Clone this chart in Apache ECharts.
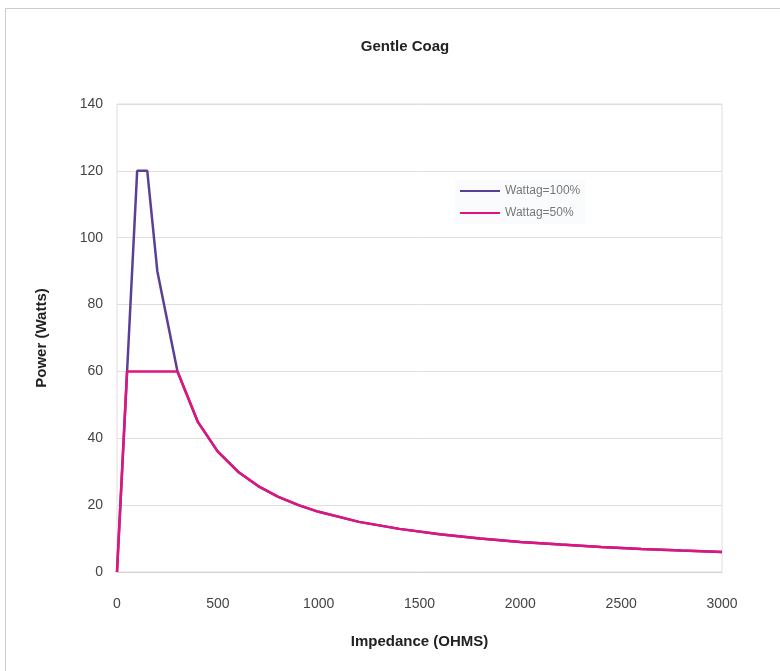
<!DOCTYPE html>
<html>
<head>
<meta charset="utf-8">
<script src="https://cdn.jsdelivr.net/npm/echarts@6/dist/echarts.min.js"></script>
<style>
html,body{margin:0;padding:0;background:#fff;}
#main{width:780px;height:671px;}
</style>
</head>
<body>
<div id="main"></div>
<script>
// impedance (ohms) and power (watts)
let ohms100 = [0, 100, 150, 200, 300, 400, 500, 600, 700, 800, 900, 1000, 1200, 1400, 1600, 1800, 2000, 2200, 2400, 2600, 2800, 3000];
let watts100 = [0, 120, 120, 90, 60, 45, 36, 30, 25.7, 22.5, 20, 18, 15, 12.9, 11.3, 10, 9, 8.2, 7.5, 6.9, 6.4, 6];
let ohms50 = [0, 50, 300, 400, 500, 600, 700, 800, 900, 1000, 1200, 1400, 1600, 1800, 2000, 2200, 2400, 2600, 2800, 3000];
let watts50 = [0, 60, 60, 45, 36, 30, 25.7, 22.5, 20, 18, 15, 12.9, 11.3, 10, 9, 8.2, 7.5, 6.9, 6.4, 6];
let names = ['Wattag=100%', 'Wattag=50%'];

function pairs(xs, ys){
    let out = [];
    for(let i=0;i<xs.length;i++){
        out.push([xs[i], ys[i]]);
    }
    return out;
}

let chart = echarts.init(document.getElementById('main'));
chart.setOption({
    animation: false,
    backgroundColor: '#fff',
    graphic: [{
        type: 'rect',
        shape: { x: 5.5, y: 8.5, width: 800, height: 700 },
        style: { fill: 'none', stroke: '#cfcaca', lineWidth: 1 },
        silent: true
    }],
    title: {
        text: 'Gentle Coag',
        left: 400,
        top: 34,
        textAlign: 'center',
        textStyle: {
            fontFamily: 'Liberation Sans',
            fontSize: 15,
            fontWeight: 'bold',
            color: '#222'
        }
    },
    legend: {
        orient: 'vertical',
        left: 455,
        top: 180,
        itemWidth: 40,
        itemHeight: 2,
        itemGap: 10,
        icon: 'rect',
        backgroundColor: 'rgba(245,248,250,0.6)',
        textStyle: {
            fontFamily: 'Liberation Sans',
            fontSize: 12,
            color: '#777'
        },
        data: names
    },
    grid: {
        left: 117,
        right: 58,
        top: 104,
        bottom: 99,
        show: true,
        borderColor: '#e4dcdc',
        borderWidth: 1
    },
    xAxis: {
        type: 'value',
        min: 0,
        max: 3000,
        interval: 500,
        name: 'Impedance (OHMS)',
        nameLocation: 'middle',
        nameGap: 62,
        nameTextStyle: {
            fontFamily: 'Liberation Sans',
            fontSize: 15,
            fontWeight: 'bold',
            color: '#222'
        },
        axisLine: { show: true, lineStyle: { color: '#d8d0d0' } },
        axisTick: { show: false },
        splitLine: { show: false },
        axisLabel: {
            margin: 25,
            fontFamily: 'Liberation Sans',
            fontSize: 14,
            color: '#444',
            formatter: function(v){ return String(v); }
        }
    },
    yAxis: {
        type: 'value',
        min: 0,
        max: 140,
        interval: 20,
        name: 'Power (Watts)',
        nameLocation: 'middle',
        nameGap: 68,
        nameTextStyle: {
            fontFamily: 'Liberation Sans',
            fontSize: 15,
            fontWeight: 'bold',
            color: '#222'
        },
        axisLine: { show: false },
        axisTick: { show: false },
        splitLine: { show: true, lineStyle: { color: '#e4dcdc' } },
        axisLabel: {
            margin: 14,
            fontFamily: 'Liberation Sans',
            fontSize: 14,
            color: '#444'
        }
    },
    series: [
        {
            name: names[0],
            type: 'line',
            color: '#5b3f95',
            showSymbol: false,
            lineStyle: { width: 2.5 },
            data: pairs(ohms100, watts100)
        },
        {
            name: names[1],
            type: 'line',
            color: '#e0147f',
            showSymbol: false,
            lineStyle: { width: 2.5 },
            data: pairs(ohms50, watts50)
        }
    ]
});
</script>
</body>
</html>
